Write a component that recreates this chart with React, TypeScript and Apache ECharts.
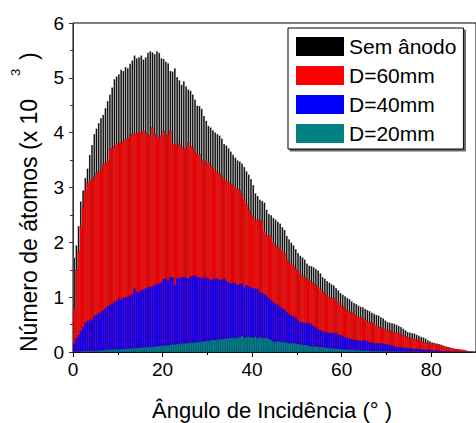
import React, { useEffect, useRef } from "react";
import * as echarts from "echarts";

// Histogram bins: 0.5° wide, from 0° to 90°
const BIN_WIDTH = 0.5;
const BIN_COUNT = 180;
const binCenters = Array.from({ length: BIN_COUNT }, (_, i) => (i * BIN_WIDTH + BIN_WIDTH / 2).toFixed(2));

const seriesNames = ["Sem ânodo", "D=60mm", "D=40mm", "D=20mm"];
const seriesColors = ["#000000", "#ff0000", "#0000ff", "#008080"];
const xTitle = "Ângulo de Incidência (° )";
const yTitleMain = "Número de átomos (x 10";
const yTitleSup = "3";
const yTitleEnd = ")";

// values in units of 10^3 atoms, one per 0.5° bin
const semAnodo = [
  1.73, 1.95, 2.3, 2.75, 2.95, 3.18, 3.35, 3.6, 3.78, 3.98,
  4.08, 4.18, 4.27, 4.33, 4.45, 4.58, 4.7, 4.83, 4.98, 5.03,
  5.07, 5.15, 5.13, 5.2, 5.18, 5.26, 5.32, 5.41, 5.36, 5.38,
  5.41, 5.34, 5.38, 5.46, 5.49, 5.47, 5.44, 5.49, 5.46, 5.36,
  5.35, 5.3, 5.27, 5.13, 5.12, 5.18, 5.02, 4.96, 4.88, 4.94,
  4.85, 4.79, 4.77, 4.7, 4.61, 4.5, 4.49, 4.44, 4.31, 4.22,
  4.13, 4.1, 4.05, 4.01, 3.98, 3.95, 3.9, 3.8, 3.77, 3.72,
  3.66, 3.6, 3.55, 3.5, 3.48, 3.44, 3.38, 3.3, 3.24, 3.16,
  3.05, 2.9, 2.85, 2.78, 2.76, 2.73, 2.6, 2.52, 2.5, 2.45,
  2.42, 2.38, 2.35, 2.28, 2.23, 2.12, 2.06, 2.0, 1.95, 1.88,
  1.81, 1.76, 1.73, 1.69, 1.62, 1.58, 1.57, 1.55, 1.52, 1.49,
  1.44, 1.37, 1.34, 1.3, 1.27, 1.24, 1.22, 1.17, 1.13, 1.08,
  1.05, 1.02, 0.99, 0.97, 0.93, 0.9, 0.88, 0.85, 0.83, 0.82,
  0.79, 0.77, 0.75, 0.72, 0.7, 0.68, 0.67, 0.64, 0.62, 0.58,
  0.55, 0.54, 0.53, 0.52, 0.5, 0.48, 0.46, 0.43, 0.4, 0.37,
  0.36, 0.35, 0.34, 0.32, 0.3, 0.28, 0.27, 0.25, 0.22, 0.2,
  0.18, 0.17, 0.16, 0.15, 0.14, 0.12, 0.1, 0.09, 0.08, 0.07,
  0.06, 0.05, 0.05, 0.04, 0.03, 0.02, 0.015, 0.01, 0.005, 0.003,
];

const d60 = [
  0.8, 1.5, 1.85, 2.3, 2.65, 2.95, 3.08, 3.12, 3.15, 3.2,
  3.27, 3.29, 3.32, 3.43, 3.45, 3.49, 3.7, 3.72, 3.75, 3.8,
  3.82, 3.8, 3.85, 3.88, 3.9, 3.95, 3.98, 3.97, 4.0, 4.01,
  4.0, 4.04, 4.0, 3.96, 3.95, 4.1, 3.98, 3.91, 3.92, 3.95,
  4.04, 3.95, 3.97, 4.04, 3.8, 3.78, 3.76, 3.8, 3.74, 3.72,
  3.7, 3.82, 3.76, 3.73, 3.64, 3.62, 3.61, 3.5, 3.46, 3.49,
  3.46, 3.4, 3.34, 3.31, 3.28, 3.25, 3.2, 3.15, 3.13, 3.1,
  3.06, 3.04, 3.0, 2.97, 2.95, 2.88, 2.78, 2.7, 2.6, 2.52,
  2.48, 2.4, 2.42, 2.38, 2.4, 2.2, 2.13, 2.12, 2.1, 2.0,
  1.95, 1.92, 1.89, 1.84, 1.8, 1.7, 1.64, 1.6, 1.58, 1.52,
  1.49, 1.43, 1.39, 1.36, 1.33, 1.31, 1.28, 1.25, 1.22, 1.18,
  1.15, 1.1, 1.07, 1.03, 1.0, 0.99, 0.98, 0.94, 0.91, 0.86,
  0.83, 0.8, 0.76, 0.73, 0.72, 0.71, 0.67, 0.64, 0.63, 0.62,
  0.59, 0.56, 0.55, 0.54, 0.52, 0.48, 0.45, 0.45, 0.44, 0.42,
  0.4, 0.39, 0.37, 0.36, 0.35, 0.34, 0.32, 0.31, 0.29, 0.27,
  0.26, 0.25, 0.24, 0.23, 0.22, 0.2, 0.18, 0.17, 0.16, 0.16,
  0.16, 0.15, 0.13, 0.13, 0.12, 0.11, 0.1, 0.09, 0.08, 0.07,
  0.06, 0.055, 0.05, 0.045, 0.04, 0.03, 0.015, 0.01, 0.005, 0.002,
];

const d40 = [
  0.16, 0.25, 0.31, 0.38, 0.45, 0.53, 0.57, 0.58, 0.59, 0.66,
  0.68, 0.71, 0.72, 0.76, 0.8, 0.84, 0.86, 0.88, 0.91, 0.94,
  0.98, 0.95, 0.99, 1.0, 1.0, 1.03, 1.05, 1.16, 1.1, 1.09,
  1.13, 1.14, 1.16, 1.18, 1.19, 1.2, 1.22, 1.24, 1.25, 1.27,
  1.33, 1.34, 1.31, 1.37, 1.36, 1.22, 1.34, 1.35, 1.37, 1.37,
  1.36, 1.34, 1.38, 1.39, 1.4, 1.37, 1.36, 1.34, 1.37, 1.36,
  1.34, 1.31, 1.33, 1.34, 1.34, 1.32, 1.31, 1.34, 1.3, 1.27,
  1.25, 1.27, 1.26, 1.22, 1.24, 1.25, 1.18, 1.22, 1.2, 1.18,
  1.16, 1.16, 1.15, 1.09, 1.08, 1.05, 1.03, 0.98, 0.95, 0.91,
  0.88, 0.86, 0.82, 0.8, 0.77, 0.73, 0.69, 0.67, 0.65, 0.63,
  0.58, 0.55, 0.54, 0.53, 0.53, 0.53, 0.51, 0.47, 0.45, 0.42,
  0.4, 0.38, 0.36, 0.36, 0.35, 0.35, 0.35, 0.34, 0.32, 0.31,
  0.29, 0.27, 0.26, 0.25, 0.24, 0.22, 0.22, 0.21, 0.2, 0.21,
  0.22, 0.2, 0.18, 0.17, 0.16, 0.16, 0.16, 0.16, 0.15, 0.15,
  0.14, 0.13, 0.12, 0.11, 0.1, 0.09, 0.09, 0.08, 0.08, 0.07,
  0.07, 0.065, 0.06, 0.06, 0.055, 0.05, 0.05, 0.045, 0.04, 0.04,
  0.035, 0.03, 0.03, 0.025, 0.02, 0.02, 0.018, 0.015, 0.013, 0.012,
  0.01, 0.009, 0.008, 0.007, 0.006, 0.005, 0.004, 0.003, 0.002, 0.001,
];

const d20 = [
  0.008, 0.01, 0.01, 0.012, 0.013, 0.015, 0.016, 0.018, 0.02, 0.021,
  0.023, 0.025, 0.03, 0.033, 0.038, 0.04, 0.042, 0.044, 0.047, 0.048,
  0.05, 0.052, 0.056, 0.058, 0.062, 0.065, 0.068, 0.07, 0.074, 0.077,
  0.08, 0.085, 0.088, 0.09, 0.097, 0.095, 0.1, 0.105, 0.11, 0.112,
  0.115, 0.12, 0.125, 0.13, 0.14, 0.135, 0.145, 0.15, 0.152, 0.155,
  0.16, 0.165, 0.17, 0.168, 0.175, 0.18, 0.182, 0.19, 0.195, 0.2,
  0.205, 0.21, 0.22, 0.215, 0.225, 0.23, 0.235, 0.24, 0.25, 0.245,
  0.255, 0.26, 0.25, 0.265, 0.27, 0.3, 0.26, 0.27, 0.28, 0.27,
  0.26, 0.28, 0.25, 0.27, 0.26, 0.25, 0.26, 0.24, 0.22, 0.19,
  0.18, 0.2, 0.19, 0.18, 0.18, 0.17, 0.16, 0.16, 0.16, 0.155,
  0.15, 0.14, 0.135, 0.13, 0.12, 0.11, 0.105, 0.1, 0.1, 0.095,
  0.09, 0.088, 0.08, 0.075, 0.07, 0.065, 0.062, 0.06, 0.055, 0.05,
  0.048, 0.045, 0.042, 0.04, 0.037, 0.035, 0.032, 0.03, 0.028, 0.026,
  0.024, 0.022, 0.02, 0.019, 0.018, 0.017, 0.016, 0.015, 0.015, 0.014,
  0.013, 0.012, 0.012, 0.011, 0.01, 0.01, 0.009, 0.009, 0.008, 0.008,
  0.007, 0.007, 0.006, 0.006, 0.005, 0.005, 0.005, 0.004, 0.004, 0.004,
  0.003, 0.003, 0.003, 0.003, 0.002, 0.002, 0.002, 0.002, 0.002, 0.002,
  0.001, 0.001, 0.001, 0.001, 0.001, 0.001, 0.001, 0.001, 0.001, 0.001,
];

const seriesValues = [semAnodo, d60, d40, d20];
const seriesBorders = ["rgba(255,255,255,0.55)", "#550000", "#a0006a", "#005050"];
const seriesBorderWidths = [0.5, 0.2, 0.2, 0.15];

const FONT = "'Liberation Sans', Arial, sans-serif";

export default function App() {
  const ref = useRef<HTMLDivElement>(null);
  useEffect(() => {
    if (!ref.current) return;
    const chart = echarts.init(ref.current, null, { renderer: "svg" });
    chart.setOption({
      animation: false,
      backgroundColor: "#ffffff",
      textStyle: { fontFamily: FONT },
      grid: {
        left: 73,
        top: 23,
        width: 405,
        height: 329,
        show: true,
        borderColor: "#000",
        borderWidth: 1,
        backgroundColor: "transparent",
      },
      legend: {
        data: seriesNames,
        orient: "vertical",
        left: 288,
        top: 28,
        itemWidth: 48,
        itemHeight: 19,
        itemGap: 8,
        padding: [8, 7, 5, 8],
        borderColor: "#000",
        borderWidth: 1,
        backgroundColor: "#fff",
        shadowColor: "rgba(0,0,0,0.6)",
        shadowOffsetX: 2,
        shadowOffsetY: 2,
        shadowBlur: 0,
        icon: "rect",
        itemStyle: { borderWidth: 0 },
        textStyle: { fontSize: 21, color: "#000", fontFamily: FONT },
      },
      xAxis: [
        {
          type: "category",
          data: binCenters,
          show: false,
          boundaryGap: true,
        },
        {
          type: "value",
          min: 0,
          max: 90,
          interval: 20,
          position: "bottom",
          axisLine: { show: true, lineStyle: { color: "#000", width: 1 } },
          axisTick: { show: true, length: 5, lineStyle: { color: "#000" } },
          minorTick: { show: true, splitNumber: 2, length: 3, lineStyle: { color: "#000" } },
          splitLine: { show: false },
          axisLabel: { fontSize: 19, color: "#000", margin: 8, fontFamily: FONT, showMaxLabel: false },
        },
      ],
      yAxis: {
        type: "value",
        min: 0,
        max: 6,
        interval: 1,
        axisLine: { show: true, lineStyle: { color: "#333", width: 1 } },
        axisTick: { show: true, length: 4, lineStyle: { color: "#333" } },
        minorTick: { show: true, splitNumber: 2, length: 3, lineStyle: { color: "#333" } },
        splitLine: { show: false },
        axisLabel: { fontSize: 19, color: "#000", margin: 9, fontFamily: FONT },
      },
      graphic: [
        {
          type: "text",
          x: 272,
          y: 410,
          style: { text: xTitle, fontSize: 22, fill: "#000", align: "center", verticalAlign: "middle", fontFamily: FONT },
        },
        {
          type: "group",
          x: 29,
          y: 352,
          rotation: Math.PI / 2,
          children: [
            {
              type: "text",
              x: 0,
              y: 0,
              style: { text: yTitleMain, fontSize: 23, fill: "#000", align: "left", verticalAlign: "middle", fontFamily: FONT },
            },
            {
              type: "text",
              x: 276,
              y: -14,
              style: { text: yTitleSup, fontSize: 13, fill: "#000", align: "left", verticalAlign: "middle", fontFamily: FONT },
            },
            {
              type: "text",
              x: 292,
              y: 0,
              style: { text: yTitleEnd, fontSize: 23, fill: "#000", align: "left", verticalAlign: "middle", fontFamily: FONT },
            },
          ],
        },
      ],
      series: seriesNames.map((name, i) => ({
        name,
        type: "bar",
        xAxisIndex: 0,
        yAxisIndex: 0,
        data: seriesValues[i],
        barGap: "-100%",
        barCategoryGap: "0%",
        itemStyle: { color: seriesColors[i], borderColor: seriesBorders[i], borderWidth: seriesBorderWidths[i] },
        emphasis: { disabled: true },
      })),
    });
    return () => chart.dispose();
  }, []);
  return (
    <div
      ref={ref}
      style={{ position: "fixed", left: 0, top: 0, width: 476, height: 423, background: "#fff" }}
    />
  );
}
